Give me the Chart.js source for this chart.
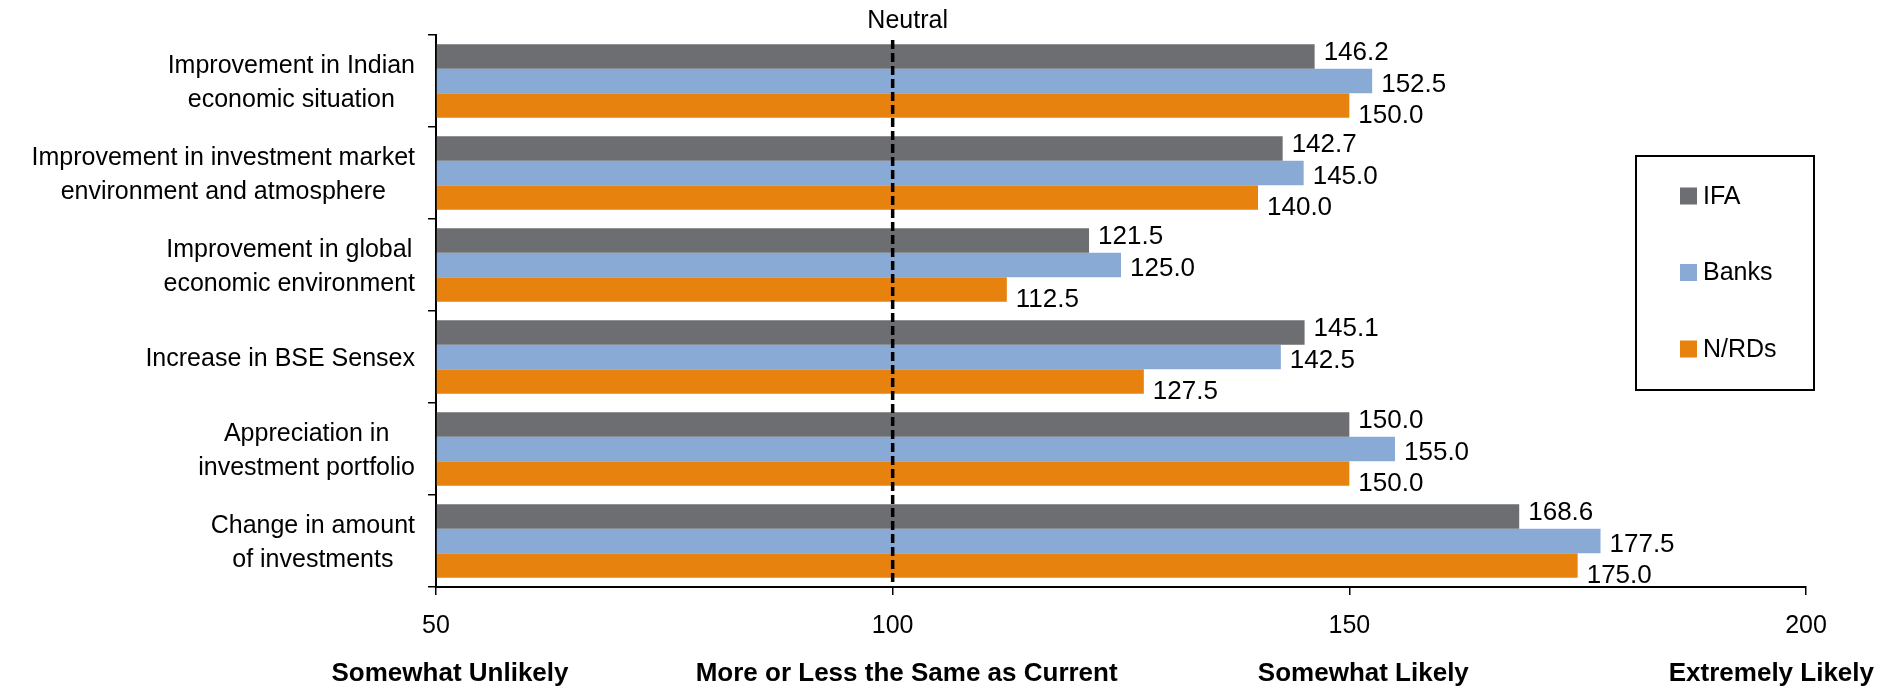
<!DOCTYPE html>
<html>
<head>
<meta charset="utf-8">
<script src="https://cdn.jsdelivr.net/npm/chart.js@4.4.1/dist/chart.umd.min.js"></script>
<style>
  html, body { margin: 0; padding: 0; background: #fff; }
  #wrap { width: 1896px; height: 687px; }
</style>
</head>
<body>
<div id="wrap"><canvas id="chart" width="1896" height="687"></canvas></div>
<script>
// categories (one entry per line of the label)
const categories = [
  ['Improvement in Indian', 'economic situation'],
  ['Improvement in investment market', 'environment and atmosphere'],
  ['Improvement in global', 'economic environment'],
  ['Increase in BSE Sensex'],
  ['Appreciation in', 'investment portfolio'],
  ['Change in amount', 'of investments']
];

const seriesNames = ['IFA', 'Banks', 'N/RDs'];
const ifaValues   = [146.2, 142.7, 121.5, 145.1, 150.0, 168.6];
const bankValues  = [152.5, 145.0, 125.0, 142.5, 155.0, 177.5];
const nrdValues   = [150.0, 140.0, 112.5, 127.5, 150.0, 175.0];

const xTicks = [50, 100, 150, 200];
const scaleWords = ['Somewhat Unlikely', 'More or Less the Same as Current', 'Somewhat Likely', 'Extremely Likely'];
const neutralValue = 100;
const neutralText = 'Neutral';

const colors = ['#6d6e71', '#88aad5', '#e8820f'];
const FONT = '"Liberation Sans", Arial, Helvetica, sans-serif';

// category labels: block right aligned to the axis, lines centred inside the block
const categoryLabels = {
  id: 'categoryLabels',
  afterDraw(chart) {
    const ctx = chart.ctx;
    const y = chart.scales.y;
    ctx.save();
    ctx.font = '25px ' + FONT;
    ctx.fillStyle = '#000';
    ctx.textAlign = 'center';
    ctx.textBaseline = 'middle';
    const lh = 34;
    categories.forEach((lines, i) => {
      const w = Math.max(...lines.map(l => ctx.measureText(l).width));
      const cx = 415 - w / 2;
      const cy = y.getPixelForValue(i) + 2;
      lines.forEach((l, k) => {
        ctx.fillText(l, cx, cy + (k - (lines.length - 1) / 2) * lh);
      });
    });
    ctx.restore();
  }
};

// value labels at the end of each bar
const valueLabels = {
  id: 'valueLabels',
  afterDatasetsDraw(chart) {
    const ctx = chart.ctx;
    ctx.save();
    ctx.font = '26px ' + FONT;
    ctx.fillStyle = '#000';
    ctx.textAlign = 'left';
    ctx.textBaseline = 'middle';
    const shift = [-4, 4, 10];
    chart.data.datasets.forEach((ds, di) => {
      chart.getDatasetMeta(di).data.forEach((bar, i) => {
        ctx.fillText(ds.data[i].toFixed(1), bar.x + 9, bar.y + shift[di]);
      });
    });
    ctx.restore();
  }
};

// dashed neutral line, legend box and the wording under the x ticks
const extras = {
  id: 'extras',
  afterDraw(chart) {
    const ctx = chart.ctx;
    const x = chart.scales.x;
    const area = chart.chartArea;
    ctx.save();

    const nx = x.getPixelForValue(neutralValue);
    ctx.strokeStyle = '#000';
    ctx.lineWidth = 3.5;
    ctx.setLineDash([9, 4]);
    ctx.beginPath();
    ctx.moveTo(nx, 40);
    ctx.lineTo(nx, area.bottom);
    ctx.stroke();
    ctx.setLineDash([]);

    ctx.fillStyle = '#000';
    ctx.font = '25px ' + FONT;
    ctx.textAlign = 'center';
    ctx.textBaseline = 'middle';
    ctx.fillText(neutralText, nx + 15, 21);

    ctx.font = 'bold 26px ' + FONT;
    xTicks.forEach((v, i) => {
      const w = ctx.measureText(scaleWords[i]).width;
      const cx = Math.min(x.getPixelForValue(v) + 14, chart.width - 22 - w / 2);
      ctx.fillText(scaleWords[i], cx, 674);
    });

    // legend
    ctx.lineWidth = 2;
    ctx.strokeRect(1636, 156, 178, 234);
    ctx.font = '25px ' + FONT;
    ctx.textAlign = 'left';
    chart.data.datasets.forEach((ds, i) => {
      const cy = 196 + i * 76.5;
      ctx.fillStyle = ds.backgroundColor;
      ctx.fillRect(1680, cy - 8.5, 17, 17);
      ctx.fillStyle = '#000';
      ctx.fillText(ds.label, 1703, cy + 1);
    });
    ctx.restore();
  }
};

new Chart(document.getElementById('chart'), {
  type: 'bar',
  data: {
    labels: categories,
    datasets: [ifaValues, bankValues, nrdValues].map((d, i) => ({
      label: seriesNames[i],
      data: d,
      base: 50,
      backgroundColor: colors[i],
      borderWidth: 0,
      barPercentage: 1.0,
      categoryPercentage: 0.8
    }))
  },
  options: {
    indexAxis: 'y',
    responsive: false,
    animation: false,
    devicePixelRatio: 1,
    layout: { padding: { top: 35, right: 90, left: 0, bottom: 0 } },
    plugins: {
      legend: { display: false },
      tooltip: { enabled: false }
    },
    scales: {
      x: {
        min: 50,
        max: 200,
        afterBuildTicks(s) { s.ticks = xTicks.map(v => ({ value: v })); },
        afterFit(s) { s.height = 100; },
        border: { display: true, color: '#000', width: 2 },
        grid: { drawOnChartArea: false, tickLength: 8, color: '#000', lineWidth: 1.5 },
        ticks: { color: '#000', padding: 16, font: { family: FONT, size: 25 } }
      },
      y: {
        afterFit(s) { s.width = 436; },
        border: { display: true, color: '#000', width: 2 },
        grid: { offset: true, drawOnChartArea: false, tickLength: 8, color: '#000', lineWidth: 1.5 },
        ticks: { display: false }
      }
    }
  },
  plugins: [valueLabels, categoryLabels, extras]
});
</script>
</body>
</html>
